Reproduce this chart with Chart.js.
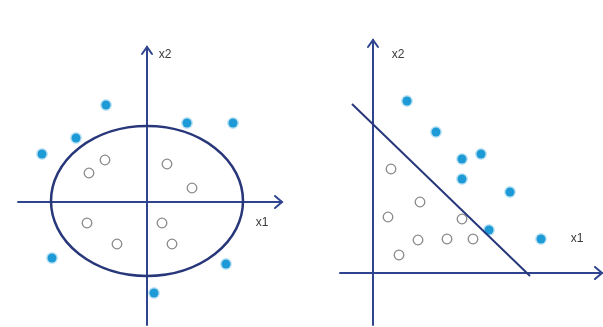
<!DOCTYPE html>
<html>
<head>
<meta charset="utf-8">
<script src="https://cdn.jsdelivr.net/npm/chart.js@4"></script>
<style>
  html, body { margin: 0; padding: 0; background: #fff; }
  #wrap { position: relative; width: 603px; height: 327px; }
  .panel { position: absolute; top: 0; height: 327px; }
</style>
</head>
<body>
<div id="wrap">
  <div class="panel" style="left:0;width:300px"><canvas id="leftChart"></canvas></div>
  <div class="panel" style="left:300px;width:303px"><canvas id="rightChart"></canvas></div>
</div>
<script>
// left panel: ring of class A around class B
let leftBlueX = [-4.1, 4.0, 8.6, -7.1, -10.5, -9.5, 7.9, 0.7];
let leftBlueY = [9.7, 7.9, 7.9, 6.4, 4.8, -5.6, -6.2, -9.1];
let leftOpenX = [-4.2, -5.8, 2.0, 4.5, -6.0, -3.0, 1.5, 2.5];
let leftOpenY = [4.2, 2.9, 3.8, 1.4, -2.1, -4.2, -2.1, -4.2];
let ellipseCenter = [0, 0.1];
let ellipseRadii = [9.6, 7.5];

// right panel: linearly separable
let rightBlueX = [3.4, 6.3, 8.9, 10.8, 8.9, 13.7, 11.6, 16.8];
let rightBlueY = [17.2, 14.1, 11.4, 11.9, 9.4, 8.1, 4.3, 3.4];
let rightOpenX = [1.8, 4.7, 1.5, 8.9, 4.5, 7.4, 10.0, 2.6];
let rightOpenY = [10.4, 7.1, 5.6, 5.4, 3.3, 3.4, 3.4, 1.8];
let boundaryX = [-2.1, 15.7];
let boundaryY = [16.9, -0.3];

const AXIS_COLOR = '#2f448f';
const BLUE = '#1e9bd7';

function pts(xs, ys) {
  return xs.map((x, i) => ({x: x, y: ys[i]}));
}

// draws axes with arrows, labels and (optionally) an ellipse
function diagramPlugin(cfg) {
  return {
    id: 'diagram',
    beforeDatasetsDraw(chart) {
      const c = chart.ctx, sx = chart.scales.x, sy = chart.scales.y;
      const px = v => sx.getPixelForValue(v), py = v => sy.getPixelForValue(v);
      c.save();
      c.strokeStyle = AXIS_COLOR;
      c.lineWidth = 2;
      c.lineCap = 'round';
      // x axis
      let y0 = py(0), x0 = px(0);
      let xa = px(cfg.xAxis[0]), xb = px(cfg.xAxis[1]);
      c.beginPath(); c.moveTo(xa, y0); c.lineTo(xb, y0); c.stroke();
      c.beginPath(); c.moveTo(xb - 7, y0 - 6); c.lineTo(xb, y0); c.lineTo(xb - 7, y0 + 6); c.stroke();
      // y axis
      let ya = py(cfg.yAxis[0]), yb = py(cfg.yAxis[1]);
      c.beginPath(); c.moveTo(x0, ya); c.lineTo(x0, yb); c.stroke();
      c.beginPath(); c.moveTo(x0 - 5, yb + 7); c.lineTo(x0, yb); c.lineTo(x0 + 5, yb + 7); c.stroke();
      if (cfg.ellipse) {
        c.strokeStyle = '#28377a';
        c.lineWidth = 2.5;
        let e = cfg.ellipse;
        c.beginPath();
        c.ellipse(px(e.c[0]), py(e.c[1]),
          Math.abs(px(e.r[0]) - px(0)), Math.abs(py(e.r[1]) - py(0)), 0, 0, Math.PI * 2);
        c.stroke();
      }
      c.fillStyle = '#3a3a3a';
      c.font = '12px "Liberation Sans", sans-serif';
      c.textAlign = 'center';
      c.textBaseline = 'middle';
      cfg.labels.forEach(l => c.fillText(l.t, px(l.x), py(l.y)));
      c.restore();
    }
  };
}

function makeOptions(xr, yr) {
  return {
    responsive: false,
    animation: false,
    events: [],
    layout: { padding: 0, autoPadding: false },
    plugins: { legend: { display: false }, tooltip: { enabled: false } },
    scales: {
      x: { type: 'linear', display: false, min: xr[0], max: xr[1] },
      y: { type: 'linear', display: false, min: yr[0], max: yr[1] }
    }
  };
}

const blueStyle = {
  backgroundColor: BLUE, borderColor: 'rgba(30,155,215,0.28)', borderWidth: 3,
  pointRadius: 4.5, clip: false
};
const openStyle = {
  backgroundColor: '#fff', borderColor: '#8a8a8a', borderWidth: 1.3,
  pointRadius: 4.8, clip: false
};

const leftCanvas = document.getElementById('leftChart');
leftCanvas.width = 300; leftCanvas.height = 327;
new Chart(leftCanvas, {
  type: 'scatter',
  data: {
    datasets: [
      Object.assign({ label: 'outer', data: pts(leftBlueX, leftBlueY) }, blueStyle),
      Object.assign({ label: 'inner', data: pts(leftOpenX, leftOpenY) }, openStyle)
    ]
  },
  options: makeOptions([-14.7, 15.3], [-12.5, 20.2]),
  plugins: [diagramPlugin({
    xAxis: [-12.9, 13.5], yAxis: [-12.3, 15.5],
    ellipse: { c: ellipseCenter, r: ellipseRadii },
    labels: [{t: 'x2', x: 1.8, y: 14.7}, {t: 'x1', x: 11.5, y: -2.1}]
  })]
});

const rightCanvas = document.getElementById('rightChart');
rightCanvas.width = 303; rightCanvas.height = 327;
new Chart(rightCanvas, {
  type: 'scatter',
  data: {
    datasets: [
      {
        label: 'boundary', data: pts(boundaryX, boundaryY), showLine: true,
        borderColor: '#28377a', borderWidth: 2, pointRadius: 0, clip: false
      },
      Object.assign({ label: 'above', data: pts(rightBlueX, rightBlueY) }, blueStyle),
      Object.assign({ label: 'below', data: pts(rightOpenX, rightOpenY) }, openStyle)
    ]
  },
  options: makeOptions([-7.3, 23.0], [-5.4, 27.3]),
  plugins: [diagramPlugin({
    xAxis: [-3.3, 22.9], yAxis: [-5.2, 23.3],
    labels: [{t: 'x2', x: 2.5, y: 21.8}, {t: 'x1', x: 20.4, y: 3.4}]
  })]
});
</script>
</body>
</html>
